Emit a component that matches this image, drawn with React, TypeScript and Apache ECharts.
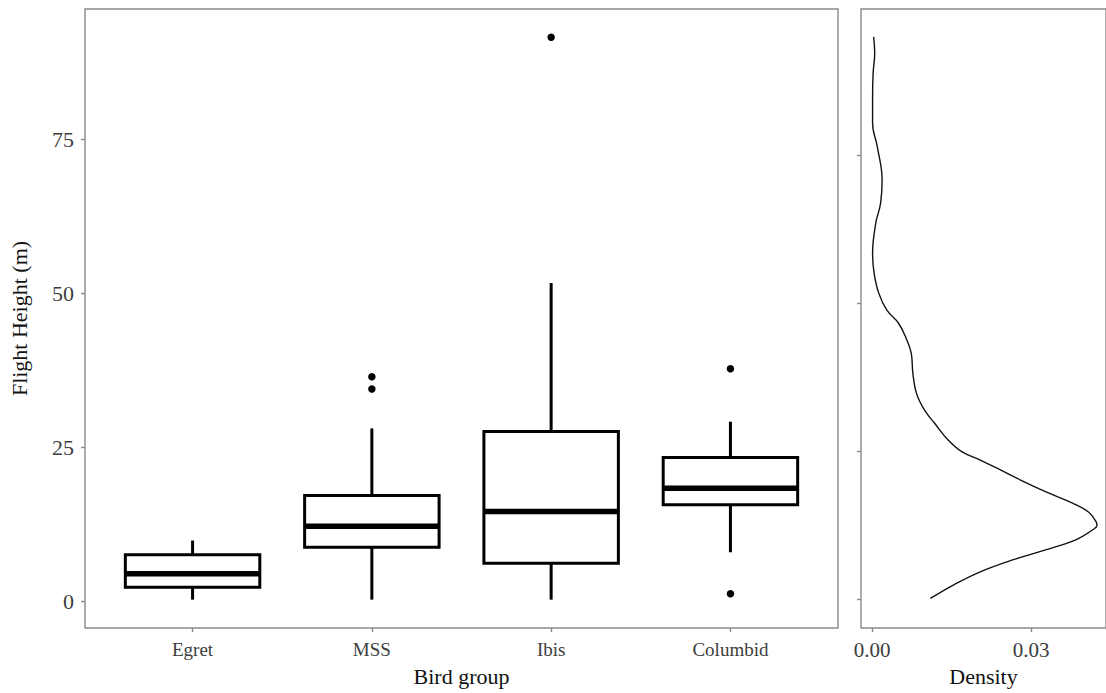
import React, { useEffect, useRef } from "react";
import * as echarts from "echarts";

const categories = ["Egret", "MSS", "Ibis", "Columbid"];
// [lower whisker, Q1, median, Q3, upper whisker]
const egretStats = [0.3, 2.3, 4.5, 7.6, 9.9];
const mssStats = [0.3, 8.8, 12.2, 17.2, 28.1];
const ibisStats = [0.3, 6.2, 14.6, 27.6, 51.7];
const columbidStats = [8.0, 15.7, 18.4, 23.4, 29.2];
const boxStats = [egretStats, mssStats, ibisStats, columbidStats];
// [category position (1-based), height]
const outliers = [
  [2, 36.5],
  [2, 34.5],
  [3, 91.6],
  [4, 37.8],
  [4, 1.25],
];
const yTicks = [0, 25, 50, 75];
const densityTicks = [0, 0.03];

const densityHeight = [
  0.1, 2.4, 4.6, 6.6, 8.3, 10.0, 11.7, 12.4, 13.1, 14.7, 16.2, 18.1, 20.1, 21.8, 23.4, 24.9,
  26.9, 29.7, 31.9, 34.7, 38.1, 41.5, 43.9, 46.6, 48.8, 51.6, 55.0, 58.4, 63.5, 66.8, 70.8,
  76.4, 80.4, 84.3, 88.8, 92.2, 95.0,
];
const densityValue = [
  0.011, 0.0154, 0.0204, 0.0265, 0.0327, 0.0384, 0.0416, 0.0424, 0.0422, 0.0408, 0.0378,
  0.0328, 0.028, 0.0242, 0.0206, 0.0169, 0.0143, 0.0118, 0.0099, 0.0084, 0.0077, 0.0074,
  0.0065, 0.005, 0.0028, 0.0013, 0.0004, 0.0001, 0.0007, 0.0016, 0.0019, 0.001, 0.0001,
  0.0001, 0.0002, 0.0005, 0.0003,
];

const FONT = "'Liberation Serif', 'Times New Roman', serif";
const FRAME = "#8a8a8a";
const LABEL = "#3d3d3d";

export default function App() {
  const ref = useRef<HTMLDivElement>(null);
  useEffect(() => {
    if (!ref.current) return;
    const chart = echarts.init(ref.current, undefined, { renderer: "svg" });
    const boxData = boxStats.map((s, i) => [i + 1, ...s]);
    const densityData = densityHeight.map((h, i) => [densityValue[i], h]);
    const tickStyle = { color: FRAME, width: 1.4 };
    chart.setOption({
      animation: false,
      backgroundColor: "#ffffff",
      textStyle: { fontFamily: FONT },
      grid: [
        {
          left: 85,
          top: 9,
          width: 753,
          height: 619,
          show: true,
          borderColor: FRAME,
          borderWidth: 1.4,
          containLabel: false,
        },
        {
          left: 861,
          top: 9,
          width: 250.6,
          height: 619,
          show: true,
          borderColor: FRAME,
          borderWidth: 1.4,
          containLabel: false,
        },
      ],
      xAxis: [
        {
          type: "value",
          gridIndex: 0,
          position: "bottom",
          min: 0.4,
          max: 4.6,
          splitLine: { show: false },
          axisLine: { show: false, onZero: false },
          axisTick: { show: true, inside: false, length: 4, customValues: [1, 2, 3, 4], lineStyle: tickStyle },
          axisLabel: {
            customValues: [1, 2, 3, 4],
            formatter: (v: number) => categories[Math.round(v) - 1] ?? "",
            fontFamily: FONT,
            fontSize: 19,
            color: LABEL,
            margin: 12,
          },
          name: "Bird group",
          nameLocation: "middle",
          nameGap: 37,
          nameTextStyle: { fontFamily: FONT, fontSize: 22, color: "#111" },
        },
        {
          type: "value",
          gridIndex: 1,
          position: "bottom",
          min: -0.00208,
          max: 0.0441,
          splitLine: { show: false },
          axisLine: { show: false, onZero: false },
          axisTick: { show: true, inside: false, length: 4, customValues: densityTicks, lineStyle: tickStyle },
          axisLabel: {
            customValues: densityTicks,
            formatter: (v: number) => v.toFixed(2),
            fontFamily: FONT,
            fontSize: 21,
            color: LABEL,
            margin: 11,
          },
          name: "Density",
          nameLocation: "middle",
          nameGap: 37,
          nameTextStyle: { fontFamily: FONT, fontSize: 22, color: "#111" },
        },
      ],
      yAxis: [
        {
          type: "value",
          gridIndex: 0,
          position: "left",
          min: -4.3,
          max: 96.2,
          splitLine: { show: false },
          axisLine: { show: false, onZero: false },
          axisTick: { show: true, inside: false, length: 4, customValues: yTicks, lineStyle: tickStyle },
          axisLabel: {
            customValues: yTicks,
            fontFamily: FONT,
            fontSize: 22,
            color: LABEL,
            margin: 11,
          },
          name: "Flight Height (m)",
          nameLocation: "middle",
          nameGap: 55,
          nameTextStyle: { fontFamily: FONT, fontSize: 22, color: "#111" },
        },
        {
          type: "value",
          gridIndex: 1,
          position: "left",
          min: -4.9,
          max: 99.7,
          splitLine: { show: false },
          axisLine: { show: false, onZero: false },
          axisTick: { show: true, inside: false, length: 4, customValues: yTicks, lineStyle: tickStyle },
          axisLabel: { show: false },
        },
      ],
      series: [
        {
          type: "custom",
          xAxisIndex: 0,
          yAxisIndex: 0,
          data: boxData,
          encode: { x: 0, y: [1, 2, 3, 4, 5] },
          renderItem: (params: any, api: any) => {
            const x = api.value(0);
            const lo = api.coord([x, api.value(1)]);
            const q1 = api.coord([x, api.value(2)]);
            const med = api.coord([x, api.value(3)]);
            const q3 = api.coord([x, api.value(4)]);
            const hi = api.coord([x, api.value(5)]);
            const w = api.size([0.75, 0])[0];
            return {
              type: "group",
              children: [
                {
                  type: "line",
                  shape: { x1: lo[0], y1: lo[1], x2: q1[0], y2: q1[1] },
                  style: { stroke: "#000", lineWidth: 3 },
                },
                {
                  type: "line",
                  shape: { x1: q3[0], y1: q3[1], x2: hi[0], y2: hi[1] },
                  style: { stroke: "#000", lineWidth: 3 },
                },
                {
                  type: "rect",
                  shape: { x: q1[0] - w / 2, y: q3[1], width: w, height: q1[1] - q3[1] },
                  style: { fill: "#fff", stroke: "#000", lineWidth: 3 },
                },
                {
                  type: "line",
                  shape: { x1: med[0] - w / 2, y1: med[1], x2: med[0] + w / 2, y2: med[1] },
                  style: { stroke: "#000", lineWidth: 5.5 },
                },
              ],
            };
          },
          z: 2,
        },
        {
          type: "scatter",
          xAxisIndex: 0,
          yAxisIndex: 0,
          data: outliers,
          symbol: "circle",
          symbolSize: 7.5,
          itemStyle: { color: "#000", opacity: 1 },
          z: 3,
        },
        {
          type: "line",
          xAxisIndex: 1,
          yAxisIndex: 1,
          data: densityData,
          smooth: 0.4,
          showSymbol: false,
          symbol: "none",
          lineStyle: { color: "#111", width: 1.4 },
        },
      ],
    });
    return () => chart.dispose();
  }, []);
  return (
    <div
      ref={ref}
      style={{ position: "fixed", left: 0, top: 0, width: 1106, height: 693, background: "#fff" }}
    />
  );
}
